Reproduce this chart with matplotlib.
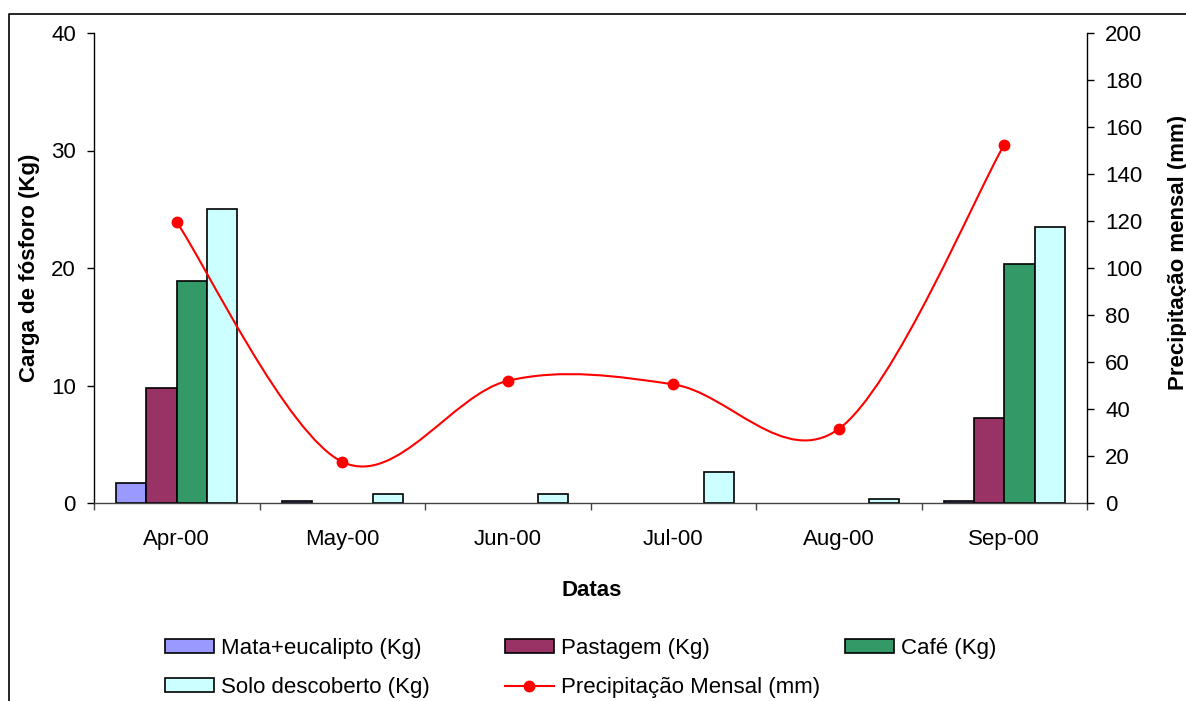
import numpy as np
import matplotlib
matplotlib.use("Agg")
import matplotlib.pyplot as plt
from matplotlib.path import Path
from matplotlib.patches import PathPatch, Patch
from matplotlib.lines import Line2D

plt.rcParams['font.family'] = ['Liberation Sans', 'DejaVu Sans']

# monthly data
meses = ['Apr-00', 'May-00', 'Jun-00', 'Jul-00', 'Aug-00', 'Sep-00']
mata = [1.7, 0.15, 0.0, 0.0, 0.0, 0.15]
pastagem = [9.8, 0.0, 0.0, 0.0, 0.0, 7.2]
cafe = [18.9, 0.0, 0.0, 0.0, 0.0, 20.3]
solo = [25.0, 0.8, 0.8, 2.6, 0.3, 23.5]
precip = [119.5, 17.5, 52.0, 50.5, 31.5, 152.5]

series = [
    ('Mata+eucalipto (Kg)', mata, '#9999FF'),
    ('Pastagem (Kg)', pastagem, '#993366'),
    ('Café (Kg)', cafe, '#339966'),
    ('Solo descoberto (Kg)', solo, '#CCFFFF'),
]

W, H = 1186, 701
fig = plt.figure(figsize=(W / 100, H / 100), dpi=100)
ax = fig.add_axes([94 / W, 1 - 503 / H, (1087 - 94) / W, (503 - 33) / H])
ax2 = ax.twinx()

fs = 16
x = np.arange(len(meses))
bw = 0.183
handles = {}
for k, (nome, vals, cor) in enumerate(series):
    vals = np.asarray(vals)
    tem = vals > 0  # empty months draw nothing
    ax.bar(x[tem] + (k - 1.5) * bw, vals[tem], bw, color=cor, edgecolor='black',
           linewidth=1.2, zorder=2)
    handles[nome] = Patch(facecolor=cor, edgecolor='black', linewidth=1.2)

ax.set_xlim(-0.5, len(meses) - 0.5)
ax.set_ylim(0, 40)
ax.set_yticks(range(0, 41, 10))
ax2.set_ylim(0, 200)
ax2.set_yticks(range(0, 201, 20))

# category ticks sit between months, labels at the centres
ax.set_xticks(np.arange(-0.5, len(meses), 1.0))
ax.set_xticklabels([])
ax.set_xticks(x, minor=True)
ax.set_xticklabels(meses, minor=True)
ax.tick_params(axis='x', which='major', direction='out', length=5, width=1, color='#444444')
ax.tick_params(axis='x', which='minor', length=0, pad=19, labelsize=fs)
ax.tick_params(axis='y', direction='out', length=5, width=1, pad=8, labelsize=fs)
ax2.tick_params(axis='y', direction='out', length=5, width=1, pad=8, labelsize=fs)

for s in ['top', 'right']:
    ax.spines[s].set_visible(False)
for s in ['top', 'left', 'bottom']:
    ax2.spines[s].set_visible(False)
ax.spines['bottom'].set_color('#444444')
for sp in [ax.spines['left'], ax.spines['bottom'], ax2.spines['right']]:
    sp.set_linewidth(1)

# smoothed precipitation line (cubic Bezier through the monthly points)
pts = np.column_stack([x, precip]).astype(float)
ext = np.vstack([pts[0], pts, pts[-1]])
verts = [tuple(pts[0])]
codes = [Path.MOVETO]
for i in range(len(pts) - 1):
    p0, p1, p2, p3 = ext[i], ext[i + 1], ext[i + 2], ext[i + 3]
    c1 = p1 + (p2 - p0) / 6
    c2 = p2 - (p3 - p1) / 6
    verts += [tuple(c1), tuple(c2), tuple(p2)]
    codes += [Path.CURVE4] * 3
ax2.add_patch(PathPatch(Path(verts, codes), facecolor='none', edgecolor='red',
                        linewidth=1.5, zorder=3))
ax2.plot(x, precip, 'o', color='red', markersize=7.5, zorder=4)
handles['Precipitação Mensal (mm)'] = Line2D([], [], color='red', linewidth=1.5,
                                             marker='o', markersize=7.5)

# axis titles
fig.text(30 / W, 1 - 268 / H, 'Carga de fósforo (Kg)', rotation=90, ha='center',
         va='center', fontsize=fs, fontweight='bold')
fig.text(1168 / W, 1 - 252 / H, 'Precipitação mensal (mm)', rotation=90, ha='left',
         va='center', fontsize=fs, fontweight='bold')
fig.text(592 / W, 1 - 590 / H, 'Datas', ha='center', va='center', fontsize=fs,
         fontweight='bold')

# legend in three fixed-width columns
colunas = [
    (165, ['Mata+eucalipto (Kg)', 'Solo descoberto (Kg)']),
    (505, ['Pastagem (Kg)', 'Precipitação Mensal (mm)']),
    (845, ['Café (Kg)']),
]
for x0, nomes in colunas:
    fig.legend([handles[n] for n in nomes], nomes, loc='upper left',
               bbox_to_anchor=(x0 / W, 1 - 638 / H), frameon=False, fontsize=fs,
               handlelength=2.2, handleheight=0.6, handletextpad=0.3,
               labelspacing=0.82, borderpad=0, borderaxespad=0)

# outer chart frame
fig.add_artist(Line2D([9 / W, 9 / W, 1], [0, 1 - 14 / H, 1 - 14 / H],
                      transform=fig.transFigure, color='black', linewidth=1.2))

fig.savefig('out.png', dpi=100)
